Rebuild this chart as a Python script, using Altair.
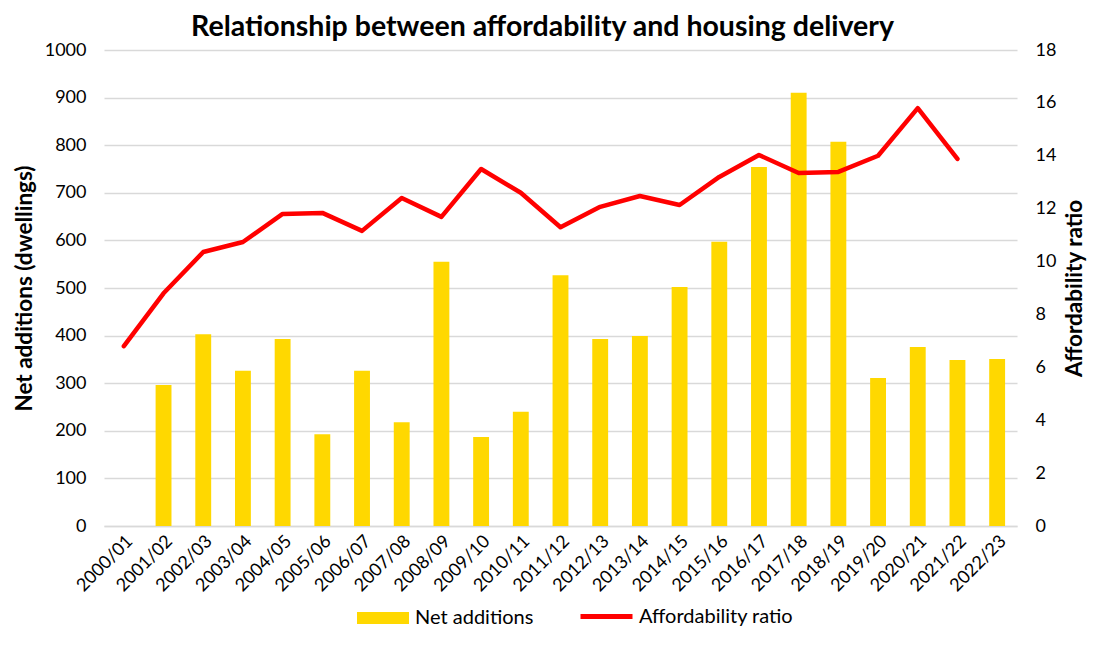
import altair as alt
import pandas as pd

years = ["2000/01", "2001/02", "2002/03", "2003/04", "2004/05", "2005/06", "2006/07",
         "2007/08", "2008/09", "2009/10", "2010/11", "2011/12", "2012/13", "2013/14",
         "2014/15", "2015/16", "2016/17", "2017/18", "2018/19", "2019/20", "2020/21",
         "2021/22", "2022/23"]
net_additions = [None, 296, 403, 326, 393, 193, 326, 218, 555, 187, 240, 527, 393, 399,
                 502, 597, 754, 910, 807, 311, 376, 349, 351]
affordability = [6.8, 8.8, 10.36, 10.74, 11.8, 11.84, 11.16, 12.4, 11.69, 13.5, 12.6,
                 11.3, 12.07, 12.48, 12.14, 13.2, 14.03, 13.35, 13.39, 14.0, 15.8, 13.88, None]

df = pd.DataFrame({"year": years, "net": net_additions, "ratio": affordability})

FONT = "Lato"
SYM = 2704  # shared legend symbol size (sqrt = 52 px)

x = alt.X("year:N", sort=years, title=None,
          scale=alt.Scale(paddingInner=0.6, paddingOuter=0.3),
          axis=alt.Axis(labelAngle=-45, labelFontSize=18, labelColor="black",
                        labelFont=FONT, ticks=False, domainColor="#d9d9d9",
                        domainWidth=1.5, labelPadding=6))

bars = alt.Chart(df).transform_filter("datum.net != null").mark_bar(color="#FFD800").encode(
    x=x,
    y=alt.Y("net:Q", title="Net additions (dwellings)",
            scale=alt.Scale(domain=[0, 1000]),
            axis=alt.Axis(values=list(range(0, 1001, 100)), format="d", labelFontSize=18,
                          labelFont=FONT, labelColor="black", titleFontSize=22.5,
                          titleFont=FONT, titleFontWeight="bold", titleColor="black",
                          domain=False, ticks=False, gridColor="#d9d9d9", gridWidth=1.5,
                          labelPadding=18, titlePadding=8)),
    color=alt.Color("s:N", scale=alt.Scale(domain=["Net additions"], range=["#FFD800"]),
                    legend=alt.Legend(title=None, orient="none", legendX=253, legendY=542,
                                      padding=0, labelFontSize=20,
                                      labelFont=FONT, labelColor="black",
                                      symbolType="M-1,-0.23H1V0.23H-1Z",
                                      symbolSize=SYM, symbolStrokeWidth=0,
                                      symbolOpacity=1, labelOffset=6))
).transform_calculate(s="'Net additions'")

line = alt.Chart(df).transform_filter("datum.ratio != null").mark_line(
    strokeWidth=4.5, strokeCap="round", strokeJoin="round").encode(
    x=x,
    y=alt.Y("ratio:Q", title="Affordability ratio",
            scale=alt.Scale(domain=[0, 18]),
            axis=alt.Axis(orient="right", values=list(range(0, 19, 2)), labelFontSize=18,
                          labelFont=FONT, labelColor="black", titleFontSize=22.5,
                          titleFont=FONT, titleFontWeight="bold", titleColor="black",
                          titleAngle=270, titleBaseline="top", domain=False, ticks=False,
                          grid=False, labelPadding=18, titlePadding=8)),
    stroke=alt.Stroke("s2:N", scale=alt.Scale(domain=["Affordability ratio"], range=["#FF0000"]),
                      legend=alt.Legend(title=None, orient="none", legendX=474, legendY=538,
                                        padding=0, labelFontSize=20,
                                        labelFont=FONT, labelColor="black",
                                        symbolType="stroke", symbolSize=SYM,
                                        symbolStrokeWidth=5, labelOffset=4))
).transform_calculate(s2="'Affordability ratio'")

chart = alt.layer(bars, line).resolve_scale(y="independent").properties(
    width=913, height=476,
    title=alt.Title("Relationship between affordability and housing delivery",
                    fontSize=28.5, font=FONT, fontWeight="bold", color="black",
                    offset=0, dx=-18),
    padding={"left": 5, "top": 4, "right": 5, "bottom": 0}
).configure_view(stroke=None)

chart.save("out.html", embed_options={"renderer": "svg", "actions": False})
